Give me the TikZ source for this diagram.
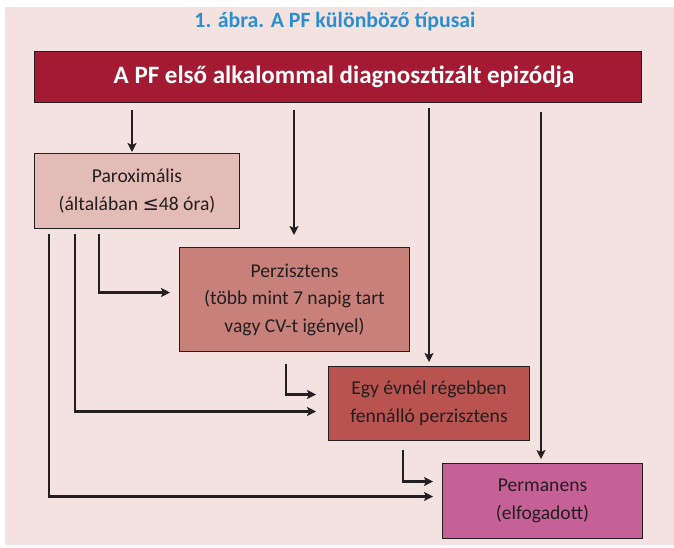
\documentclass[tikz,border=0pt]{standalone}
\usepackage{fontspec}
\setmainfont{Carlito}
\newfontfamily\symfont{DejaVu Sans}
\usetikzlibrary{arrows.meta}

\definecolor{panelbg}{HTML}{F3E2DF}
\definecolor{titleblue}{HTML}{2B8FCF}
\definecolor{topred}{HTML}{A41A32}
\definecolor{paroxfill}{HTML}{E4BCB7}
\definecolor{perzfill}{HTML}{C8817A}
\definecolor{egyfill}{HTML}{B85350}
\definecolor{permfill}{HTML}{C66198}
\definecolor{inkline}{HTML}{231F20}

\tikzset{
  box/.style={draw=inkline, line width=1pt, anchor=north west, inner sep=0pt,
    align=center, text=inkline, font=\fontsize{19.6}{27.5}\selectfont},
  link/.style={-{Stealth[length=9pt,width=9pt,inset=2pt]}, line width=2.3pt, draw=inkline}
}

\begin{document}
\begin{tikzpicture}[x=1pt,y=-1pt]
  \useasboundingbox (0,0) rectangle (674,547);
  \fill[white] (0,0) rectangle (674,547);
  \fill[panelbg] (5,7) rectangle (674,545);

  \node[titleblue, font=\bfseries\fontsize{21.8}{24}\selectfont] (title) at (335,22)
    {1. ábra. A PF különböző típusai};

  \node[box, fill=topred, text=white, minimum width=607pt, minimum height=51pt,
    font=\bfseries\fontsize{25}{27}\selectfont] (top) at (34,51)
    {\hspace*{12pt}A PF első alkalommal diagnosztizált epizódja};
  \node[box, fill=paroxfill, minimum width=205pt, minimum height=75pt] (parox) at (34,153)
    {Paroximális\\(általában {\symfont ≤}48 óra)};
  \node[box, fill=perzfill, minimum width=230pt, minimum height=104pt] (perz) at (179,247)
    {Perzisztens\\(több mint 7 napig tart\\vagy CV-t igényel)};
  \node[box, fill=egyfill, minimum width=201pt, minimum height=74pt] (egy) at (328,366)
    {Egy évnél régebben\\fennálló perzisztens};
  \node[box, fill=permfill, minimum width=200pt, minimum height=75pt] (perm) at (442,463)
    {Permanens\\(elfogadott)};

  % from the first episode down to each type
  \draw[link] ([xshift=98pt,yshift=-7pt]top.south west) -- ([xshift=98pt,yshift=1pt]parox.north west);
  \draw[link] ([xshift=260pt,yshift=-7pt]top.south west) -- ([xshift=115pt,yshift=12pt]perz.north west);
  \draw[link] ([xshift=395pt,yshift=-5pt]top.south west) -- ([xshift=101pt,yshift=4pt]egy.north west);
  \draw[link] ([xshift=507pt,yshift=-9pt]top.south west) -- ([xshift=99pt,yshift=4pt]perm.north west);

  % elbows between the types
  \draw[link] ([xshift=65pt,yshift=-5pt]parox.south west) |- ([xshift=-9pt,yshift=7pt]perz.west);
  \draw[link] ([xshift=41pt,yshift=-5pt]parox.south west) |- ([xshift=-12pt,yshift=-8pt]egy.west);
  \draw[link] ([xshift=15pt,yshift=-5pt]parox.south west) |- ([xshift=-9pt,yshift=4.5pt]perm.west);
  \draw[link] ([xshift=107pt,yshift=-12pt]perz.south west) |- ([xshift=-12pt,yshift=9pt]egy.west);
  \draw[link] ([xshift=75pt,yshift=-9pt]egy.south west) |- ([xshift=-9pt,yshift=19.5pt]perm.west);
\end{tikzpicture}
\end{document}
